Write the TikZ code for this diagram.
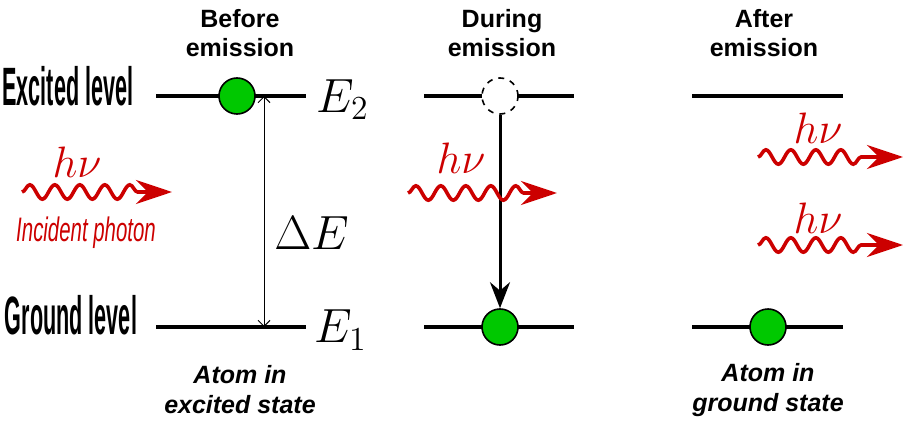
\documentclass[tikz,border=0pt]{standalone}
\usepackage{fix-cm}
\usepackage{fontspec}
\usepackage{xcolor}
\usepackage{tikz}
\usetikzlibrary{arrows.meta,positioning,decorations.pathmorphing}
\newfontfamily\labelsf{Liberation Sans}
\definecolor{photonred}{RGB}{204,0,0}
\definecolor{atomgreen}{RGB}{0,200,0}

\begin{document}
\begin{tikzpicture}[x=0.5pt, y=-0.5pt,
    level/.style={line width=2pt},
    atom/.style={circle, draw, line width=0.8pt, fill=atomgreen,
                 minimum size=18pt, inner sep=0pt},
    ghost/.style={circle, draw, dashed, line width=0.8pt, fill=white,
                  minimum size=18pt, inner sep=0pt},
    photon/.style={photonred, line width=1.8pt,
                   -{Stealth[length=18pt, width=12pt, inset=6pt]},
                   decorate, decoration={snake, amplitude=3.6pt,
                   segment length=12.5pt, post length=15pt}},
    header/.style={font=\labelsf\bfseries\fontsize{12.5}{14.5}\selectfont, align=center},
    caption/.style={font=\labelsf\bfseries\itshape\fontsize{12.5}{15}\selectfont, align=center},
    sidelabel/.style={font=\labelsf\bfseries\fontsize{27}{30}\selectfont, inner sep=0pt},
    energy/.style={font=\fontsize{24}{28}\selectfont, inner sep=0pt, anchor=west},
    hnu/.style={font=\fontsize{22}{24}\selectfont, text=photonred, inner sep=0pt},
  ]
  \useasboundingbox (0,0) rectangle (903,427);

  % headers
  \node[header] (before) at (240,33) {Before\\emission};
  \node[header] (during) at (502,33) {During\\emission};
  \node[header] (after)  at (764,33) {After\\emission};

  % level labels
  \node[sidelabel] (excited) at (68,86) {\scalebox{0.4}[1]{Excited level}};
  \node[sidelabel] (ground)  at (71,315) {\scalebox{0.4}[1]{Ground level}};

  % energy levels
  \foreach \x/\w/\n in {156/150/b, 424/150/d, 692/151/a} {
    \coordinate (\n up) at (\x,96);
    \coordinate (\n down) at (\x,327);
    \draw[level] (\n up) -- +(\w,0);
    \draw[level] (\n down) -- +(\w,0);
  }

  % Before emission
  \coordinate (gap top) at (264,96);
  \coordinate (gap bot) at (264,327);
  \draw[{Straight Barb[length=3pt]}-{Straight Barb[length=3pt]}, line width=0.5pt]
    (gap top) -- (gap bot);
  \node[atom] (b atom) at (237,96) {};
  \node[energy] (e2) at (316,100) {$E_2$};
  \node[energy] (e1) at (314,330) {$E_1$};
  \node[energy] (de) at (274,233) {$\Delta E$};

  \coordinate (in start) at (22,192);
  \coordinate (in end) at (172,192);
  \draw[photon] (in start) -- (in end);
  \node[hnu] (in hnu) at (77,162) {$h\nu$};
  \node[font=\labelsf\itshape\fontsize{17}{19}\selectfont, text=photonred, inner sep=0pt]
    (incident) at (86,233) {\scalebox{0.6}[1]{Incident photon}};
  \node[caption] (cap excited) at (240,390) {Atom in\\excited state};

  % During emission
  \node[ghost] (d ghost) at (500,96) {};
  \node[atom] (d atom) at (500,327) {};
  \draw[line width=1.5pt, -{Stealth[length=13pt, width=10pt]}]
    (d ghost.south) -- (d atom.north);
  \coordinate (st start) at (408,193);
  \coordinate (st end) at (557,193);
  \draw[photon] (st start) -- (st end);
  \node[hnu] (st hnu) at (461,158) {$h\nu$};

  % After emission
  \node[atom] (a atom) at (768,327) {};
  \coordinate (o1 start) at (758,157);
  \coordinate (o1 end) at (903,157);
  \coordinate (o2 start) at (758,245);
  \coordinate (o2 end) at (903,245);
  \draw[photon] (o1 start) -- (o1 end);
  \draw[photon] (o2 start) -- (o2 end);
  \node[hnu] (o1 hnu) at (818,128) {$h\nu$};
  \node[hnu] (o2 hnu) at (818,218) {$h\nu$};
  \node[caption] (cap ground) at (768,390) {Atom in\\ground state};

\end{tikzpicture}
\end{document}
